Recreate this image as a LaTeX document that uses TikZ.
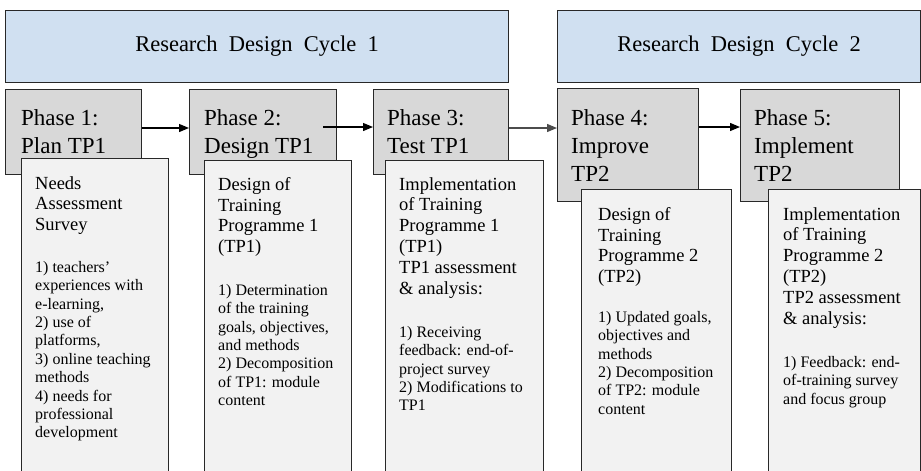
\documentclass[tikz,border=0pt]{standalone}
\usepackage{fontspec}
\setmainfont{Liberation Serif}
\usetikzlibrary{arrows.meta, positioning}
\definecolor{cycleblue}{RGB}{208, 224, 241}
\definecolor{phasegray}{RGB}{216, 216, 216}
\definecolor{detailgray}{RGB}{242, 242, 242}
\definecolor{edgegray}{RGB}{40, 40, 40}

\tikzset{
  cyclebox/.style={draw=edgegray, line width=1.2pt, fill=cycleblue, anchor=north west, inner sep=0pt},
  phasebox/.style={draw=edgegray, line width=1.2pt, fill=phasegray, anchor=north west, inner sep=0pt},
  detailbox/.style={draw=edgegray, line width=1.2pt, fill=detailgray, anchor=north west, inner sep=0pt},
  cycletext/.style={font=\fontsize{22.5}{27}\selectfont, inner sep=0pt},
  phasetext/.style={font=\fontsize{23}{28}\selectfont, align=left, anchor=north west, inner sep=0pt},
  headtext/.style={font=\fontsize{18.5}{20.8}\selectfont, align=left, anchor=north west, inner sep=0pt},
  listtext/.style={font=\fontsize{16}{18.4}\selectfont, align=left, anchor=north west, inner sep=0pt},
  flow/.style={line width=1.2pt, -{Triangle[length=10pt, width=8pt]}}
}

\begin{document}
\begin{tikzpicture}[x=1pt, y=-1pt]
\useasboundingbox (0,0) rectangle (921,471);
\clip (0,0) rectangle (921,471);

% Cycles
\node[cyclebox, minimum width=503, minimum height=72] (c1) at (5,10) {};
\node[cycletext] (c1t) at (c1.center) {Research\ \ Design\ \ Cycle\ \ 1};
\node[cyclebox, minimum width=363, minimum height=72] (c2) at (557,10) {};
\node[cycletext] (c2t) at (c2.center) {Research\ \ Design\ \ Cycle\ \ 2};

% Phases
\node[phasebox, minimum width=136, minimum height=85] (p1) at (5,89) {};
\node[phasebox, minimum width=147, minimum height=85] (p2) at (189,89) {};
\node[phasebox, minimum width=135, minimum height=85] (p3) at (373,89) {};
\node[phasebox, minimum width=141, minimum height=113] (p4) at (557,88) {};
\node[phasebox, minimum width=159, minimum height=112] (p5) at (740,89) {};

\node[phasetext] (p1t) at (21,109) {Phase 1:\\Plan TP1};
\node[phasetext] (p2t) at (204,109) {Phase 2:\\Design TP1};
\node[phasetext] (p3t) at (387,109) {Phase 3:\\Test TP1};
\node[phasetext] (p4t) at (571,109) {Phase 4:\\Improve\\TP2};
\node[phasetext] (p5t) at (754,109) {Phase 5:\\Implement\\TP2};

% Arrows
\coordinate (a2) at (323,127);
\draw[flow] (p1.east |- 0,128) -- (p2.west |- 0,128);
\draw[flow] (a2) -- (p3.west |- a2);
\draw[flow, draw=gray!60!black] (p3.east |- 0,128) -- (p4.west |- 0,128);
\draw[flow] (p4.east |- 0,127) -- (p5.west |- 0,127);

% Details
\node[detailbox, minimum width=147, minimum height=330] (d1) at (21,158) {};
\node[detailbox, minimum width=147, minimum height=330] (d2) at (204,160) {};
\node[detailbox, minimum width=158, minimum height=330] (d3) at (385,160) {};
\node[detailbox, minimum width=150, minimum height=300] (d4) at (581,189) {};
\node[detailbox, minimum width=152, minimum height=300] (d5) at (768,189) {};

\node[headtext] (d1h) at (35,176) {Needs\\Assessment\\Survey};
\node[listtext] (d1l) at (35,261) {1) teachers'\\experiences with\\e-learning,\\2) use of\\platforms,\\3) online teaching\\methods\\4) needs for\\professional\\development};

\node[headtext] (d2h) at (218,177) {Design of\\Training\\Programme 1\\(TP1)};
\node[listtext] (d2l) at (218,284) {1) Determination\\of the training\\goals, objectives,\\and methods\\2) Decomposition\\of TP1: module\\content};

\node[headtext] (d3h) at (399,177) {Implementation\\of Training\\Programme 1\\(TP1)\\TP1 assessment\\\& analysis:};
\node[listtext] (d3l) at (399,326) {1) Receiving\\feedback: end-of-\\project survey\\2) Modifications to\\TP1};

\node[headtext] (d4h) at (598,207) {Design of\\Training\\Programme 2\\(TP2)};
\node[listtext] (d4l) at (598,311) {1) Updated goals,\\objectives and\\methods\\2) Decomposition\\of TP2: module\\content};

\node[headtext] (d5h) at (783,207) {Implementation\\of Training\\Programme 2\\(TP2)\\TP2 assessment\\\& analysis:};
\node[listtext] (d5l) at (783,356) {1) Feedback: end-\\of-training survey\\and focus group};
\end{tikzpicture}
\end{document}
